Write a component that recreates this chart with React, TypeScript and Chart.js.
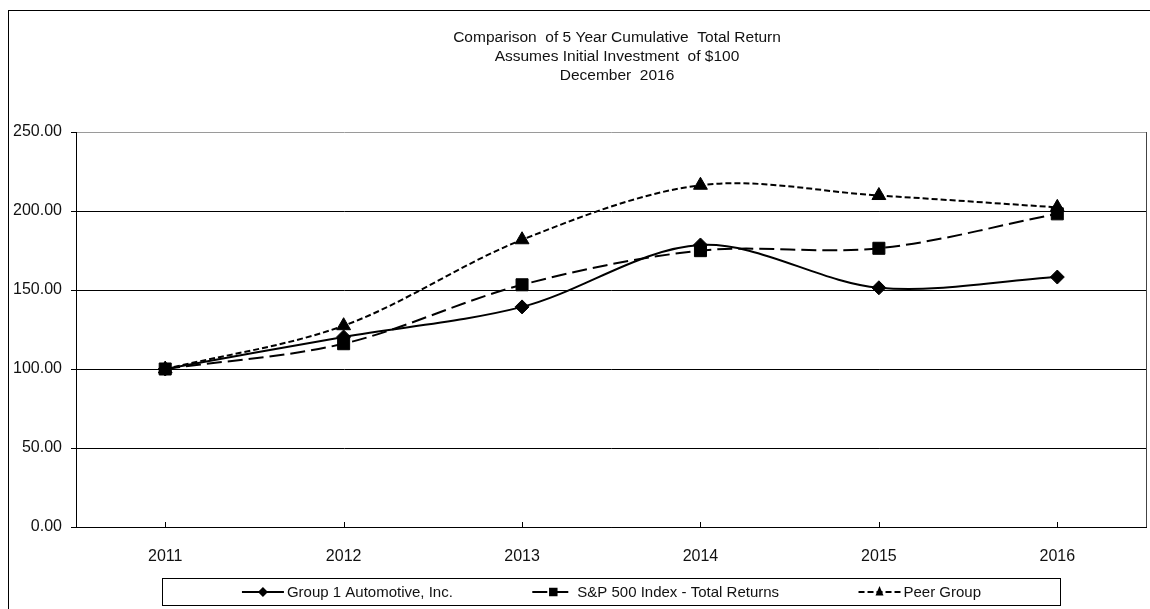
import React, { useEffect, useRef } from "react";
import { Chart, registerables } from "chart.js";

Chart.register(...registerables);

const FONT = "'Liberation Sans', Arial, sans-serif";

const titleLines = [
  "Comparison  of 5 Year Cumulative  Total Return",
  "Assumes Initial Investment  of $100",
  "December  2016",
];
const years = ["2011", "2012", "2013", "2014", "2015", "2016"];
const group1 = [100, 120.3, 139.3, 178.5, 151.4, 158.2];
const sp500 = [100, 116.0, 153.3, 174.9, 176.4, 198.2];
const peer = [100, 127.4, 181.8, 216.3, 209.8, 202.3];
const seriesNames = ["Group 1 Automotive, Inc.", "S&P 500 Index - Total Returns", "Peer Group"];
const yMin = 0;
const yMax = 250;
const yStep = 50;

const CANVAS_W = 1156;
const CANVAS_H = 609;

function drawMarker(ctx: CanvasRenderingContext2D, style: string, x: number, y: number, r: number) {
  ctx.beginPath();
  if (style === "rectRot") {
    ctx.moveTo(x, y - r);
    ctx.lineTo(x + r, y);
    ctx.lineTo(x, y + r);
    ctx.lineTo(x - r, y);
  } else if (style === "rect") {
    const s = r * Math.SQRT1_2;
    ctx.rect(x - s, y - s, 2 * s, 2 * s);
  } else {
    const h = r * 1.2;
    ctx.moveTo(x, y - h);
    ctx.lineTo(x + r * 0.8, y + h * 0.6);
    ctx.lineTo(x - r * 0.8, y + h * 0.6);
  }
  ctx.closePath();
  ctx.fill();
}

const decorPlugin = {
  id: "decor",
  beforeDraw(chart: any) {
    const { ctx, width, height } = chart;
    ctx.save();
    ctx.fillStyle = "#fff";
    ctx.fillRect(0, 0, width, height);
    ctx.strokeStyle = "#000";
    ctx.lineWidth = 1;
    ctx.strokeRect(8.5, 10.5, width + 20, height + 20);
    ctx.restore();
  },
  afterDraw(chart: any) {
    const { ctx, chartArea } = chart;
    ctx.save();
    // plot right border
    ctx.strokeStyle = "#444";
    ctx.lineWidth = 1;
    ctx.beginPath();
    ctx.moveTo(Math.round(chartArea.right) - 0.5, chartArea.top);
    ctx.lineTo(Math.round(chartArea.right) - 0.5, chartArea.bottom);
    ctx.stroke();
    // x tick marks pointing up
    const xs = chart.scales.x;
    ctx.strokeStyle = "#000";
    for (let i = 0; i < years.length; i++) {
      const px = Math.round(xs.getPixelForValue(i)) + 0.5;
      ctx.beginPath();
      ctx.moveTo(px, chartArea.bottom);
      ctx.lineTo(px, chartArea.bottom - 5);
      ctx.stroke();
    }
    // title
    ctx.fillStyle = "#111";
    ctx.font = `15.5px ${FONT}`;
    ctx.textAlign = "center";
    ctx.textBaseline = "middle";
    const cx = 617;
    titleLines.forEach((t, i) => ctx.fillText(t, cx, 38 + i * 19));
    // legend
    const bx = 162.5, by = 578.5, bw = 898, bh = 27;
    ctx.strokeStyle = "#000";
    ctx.lineWidth = 1;
    ctx.strokeRect(bx, by, bw, bh);
    ctx.font = `15px ${FONT}`;
    ctx.textAlign = "left";
    const sampleW = 42;
    const gapT = 3;
    const ds = chart.data.datasets;
    const widths = ds.map((d: any) => sampleW + gapT + ctx.measureText(d.label).width);
    const total = widths.reduce((a: number, b: number) => a + b, 0);
    const gap = (bw - total) / (ds.length + 1);
    let x = bx + gap;
    const cy = by + bh / 2;
    ds.forEach((d: any, i: number) => {
      ctx.save();
      ctx.strokeStyle = "#000";
      ctx.lineWidth = 2;
      ctx.setLineDash(d.legendDash || []);
      ctx.beginPath();
      ctx.moveTo(x, cy);
      ctx.lineTo(x + sampleW, cy);
      ctx.stroke();
      ctx.restore();
      ctx.save();
      ctx.fillStyle = "#000";
      drawMarker(ctx, d.pointStyle, x + sampleW / 2, cy, d.pointStyle === "rect" ? 6 : 5);
      ctx.restore();
      ctx.fillStyle = "#111";
      ctx.fillText(d.label, x + sampleW + gapT, cy + 1);
      x += widths[i] + gap;
    });
    ctx.restore();
  },
};

export default function App() {
  const ref = useRef<HTMLCanvasElement | null>(null);
  useEffect(() => {
    if (!ref.current) return;
    const common = {
      borderColor: "#000",
      backgroundColor: "#000",
      pointBackgroundColor: "#000",
      pointBorderColor: "#000",
      borderWidth: 2,
      fill: false,
      tension: 0.33,
      pointBorderWidth: 1,
    };
    const chart = new Chart(ref.current, {
      type: "line",
      data: {
        labels: years,
        datasets: [
          { ...common, label: seriesNames[0], data: group1, pointStyle: "rectRot", pointRadius: 7, legendDash: [] } as any,
          { ...common, label: seriesNames[1], data: sp500, pointStyle: "rect", pointRadius: 8.5, borderDash: [15, 6], legendDash: [15, 6] } as any,
          { ...common, label: seriesNames[2], data: peer, pointStyle: "triangle", pointRadius: 8, borderDash: [6, 3], legendDash: [6, 3] } as any,
        ],
      },
      options: {
        animation: false,
        responsive: false,
        maintainAspectRatio: false,
        layout: { padding: { top: 132, left: 0, right: 0, bottom: 42 } },
        plugins: {
          legend: { display: false },
          title: { display: false },
          tooltip: { enabled: false },
        },
        scales: {
          x: {
            type: "category",
            offset: true,
            grid: { display: false },
            border: { display: true, color: "#000", width: 1 },
            ticks: { color: "#111", font: { family: FONT, size: 16 }, padding: 12 },
            afterFit: (s: any) => { s.height = 40; },
          },
          y: {
            min: yMin,
            max: yMax,
            grid: {
              color: (c: any) => (c.tick && c.tick.value === yMax ? "#9a9a9a" : "#000"),
              lineWidth: 1,
              drawTicks: true,
              tickLength: 5,
              tickColor: "#000",
            },
            border: { display: true, color: "#000", width: 1 },
            ticks: {
              stepSize: yStep,
              color: "#111",
              font: { family: FONT, size: 16 },
              padding: 9,
              callback: (v: any) => Number(v).toFixed(2),
            },
            afterFit: (s: any) => { s.width = 76; },
          },
        },
      } as any,
      plugins: [decorPlugin],
    });
    return () => chart.destroy();
  }, []);
  return (
    <div style={{ position: "fixed", left: 0, top: 0, width: 1150, height: 609, overflow: "hidden" }}>
      <canvas ref={ref} width={CANVAS_W} height={CANVAS_H} style={{ width: CANVAS_W, height: CANVAS_H, display: "block" }} />
    </div>
  );
}
